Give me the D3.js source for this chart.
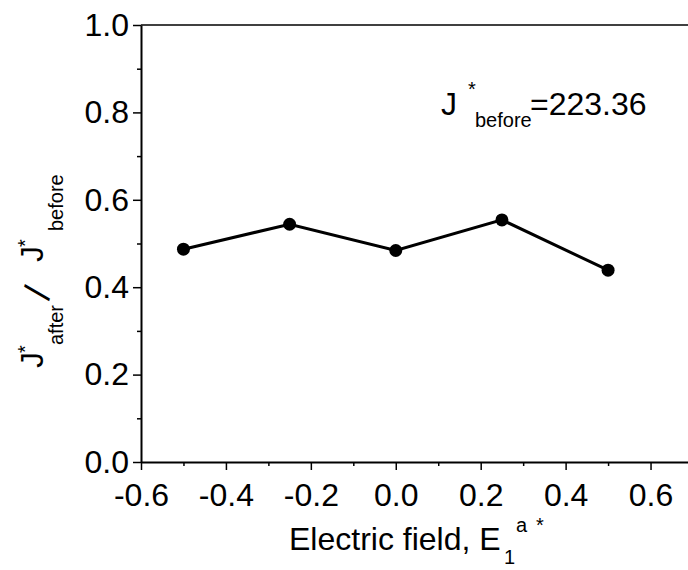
<!DOCTYPE html>
<html>
<head>
<meta charset="utf-8">
<script src="https://cdn.jsdelivr.net/npm/d3@7"></script>
<style>
  html, body { margin: 0; padding: 0; background: #fff; }
  svg { display: block; font-family: "Liberation Sans", Arial, sans-serif; }
</style>
</head>
<body>
<svg id="chart" width="688" height="570"></svg>
<script>
// ---- data ----
const fieldValues = [-0.5, -0.25, 0.0, 0.25, 0.5];
const ratioValues = [0.487, 0.544, 0.484, 0.554, 0.439];
const xTickValues = [-0.6, -0.4, -0.2, 0.0, 0.2, 0.4, 0.6];
const xMinorTicks = [-0.5, -0.3, -0.1, 0.1, 0.3, 0.5, 0.7];
const yTickValues = [0.0, 0.2, 0.4, 0.6, 0.8, 1.0];
const yMinorTicks = [0.1, 0.3, 0.5, 0.7, 0.9];
const annotationValue = "=223.36";

(function () {
const svg = d3.select("#chart");
const mLeft = 141, mTop = 25, mBottom = 462, mRight = 693;

const x = d3.scaleLinear().domain([-0.6, 0.7]).range([mLeft, mRight]);
const y = d3.scaleLinear().domain([0, 1]).range([mBottom, mTop]);

const FS = 32, SFS = 20;
const fmt = d => d3.format(".1f")(d).replace("\u2212", "-");

// top frame line
svg.append("line").attr("x1", mLeft).attr("x2", mRight).attr("y1", mTop).attr("y2", mTop)
  .attr("stroke", "#000").attr("stroke-width", 1.5);

// x axis
svg.append("g").attr("transform", `translate(0,${mBottom})`)
  .call(d3.axisBottom(x).tickValues(xTickValues).tickSize(8).tickPadding(13)
    .tickFormat(fmt).tickSizeOuter(0));
svg.append("g").attr("transform", `translate(0,${mBottom})`)
  .call(d3.axisBottom(x).tickValues(xMinorTicks).tickSize(4).tickFormat("").tickSizeOuter(0))
  .select(".domain").remove();

// y axis
svg.append("g").attr("transform", `translate(${mLeft},0)`)
  .call(d3.axisLeft(y).tickValues(yTickValues).tickSize(8).tickPadding(4)
    .tickFormat(fmt).tickSizeOuter(0));
svg.append("g").attr("transform", `translate(${mLeft},0)`)
  .call(d3.axisLeft(y).tickValues(yMinorTicks).tickSize(4).tickFormat("").tickSizeOuter(0))
  .select(".domain").remove();

svg.selectAll(".tick line").attr("stroke", "#000").attr("stroke-width", 1.5);
svg.selectAll(".domain").attr("stroke", "#000").attr("stroke-width", 2);
svg.selectAll(".tick text").attr("font-size", FS).attr("fill", "#000")
  .attr("font-family", "Liberation Sans, Arial, sans-serif");

// line + points
const line = d3.line().x((d, i) => x(fieldValues[i])).y(d => y(d));
svg.append("path").datum(ratioValues).attr("d", line)
  .attr("fill", "none").attr("stroke", "#000").attr("stroke-width", 3);
svg.selectAll("circle.pt").data(ratioValues).enter().append("circle")
  .attr("class", "pt")
  .attr("cx", (d, i) => x(fieldValues[i])).attr("cy", d => y(d)).attr("r", 6.5)
  .attr("fill", "#000");

// annotation
const ann = svg.append("g");
ann.append("text").attr("x", 441).attr("y", 115).attr("font-size", FS).text("J");
ann.append("text").attr("x", 468).attr("y", 96).attr("font-size", SFS).text("*");
ann.append("text").attr("x", 475).attr("y", 127).attr("font-size", SFS).text("before");
ann.append("text").attr("x", 530).attr("y", 115).attr("font-size", FS).text(annotationValue);

// x axis label
const xl = svg.append("g");
xl.append("text").attr("x", 289).attr("y", 550).attr("font-size", FS).text("Electric field, E");
xl.append("text").attr("x", 504).attr("y", 564).attr("font-size", SFS).text("1");
xl.append("text").attr("x", 516).attr("y", 532).attr("font-size", SFS).text("a");
xl.append("text").attr("x", 536).attr("y", 532).attr("font-size", SFS).text("*");

// y axis label (rotated)
const yl = svg.append("g").attr("transform", "translate(43,368) rotate(-90)");
yl.append("text").attr("x", 0).attr("y", 0).attr("font-size", FS).text("J");
yl.append("text").attr("x", 15).attr("y", -11).attr("font-size", SFS).text("*");
yl.append("text").attr("x", 23).attr("y", 20).attr("font-size", SFS).text("after");
yl.append("text").attr("transform", "translate(75.5,-6.5) rotate(15)")
  .attr("x", 0).attr("y", 14).attr("text-anchor", "middle").attr("font-size", 38).text("/");
yl.append("text").attr("x", 106).attr("y", 0).attr("font-size", FS).text("J");
yl.append("text").attr("x", 121).attr("y", -11).attr("font-size", SFS).text("*");
yl.append("text").attr("x", 137).attr("y", 20).attr("font-size", SFS).text("before");
})();
</script>
</body>
</html>
